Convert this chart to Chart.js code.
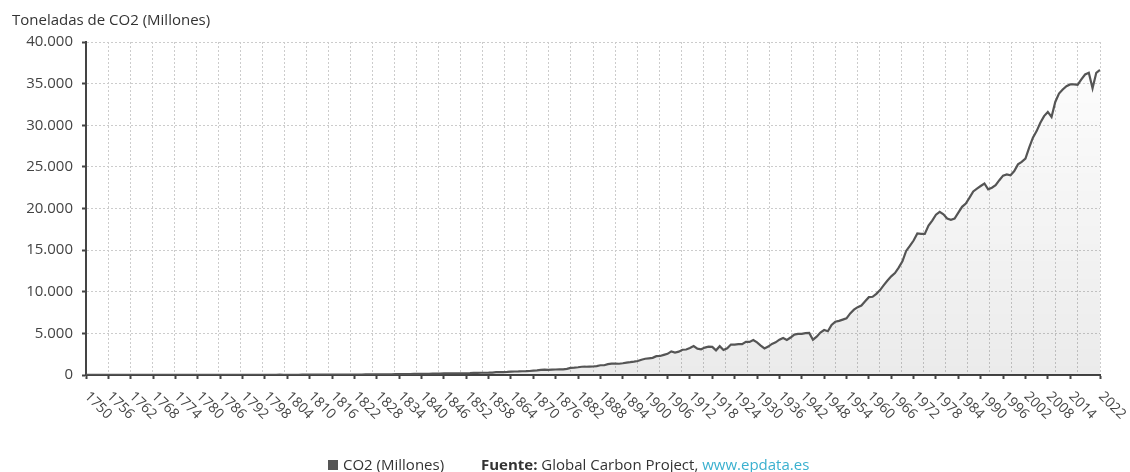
<!DOCTYPE html>
<html lang="es">
<head>
<meta charset="utf-8">
<title>Emisiones de CO2</title>
<script src="https://cdn.jsdelivr.net/npm/chart.js@4.4.1/dist/chart.umd.min.js"></script>
<style>
  html, body { margin: 0; padding: 0; background: #fff; }
  #wrap { position: relative; width: 1130px; height: 472px; overflow: hidden; font-family: "Open Sans", sans-serif; color: #333; }
  #chart { position: absolute; left: 0; top: 0; }
  #ytitle { position: absolute; left: 12px; top: 9px; font-size: 15px; line-height: 20px; color: #333; white-space: nowrap; }
  .foot { position: absolute; top: 454px; font-size: 15px; line-height: 20px; color: #333; white-space: nowrap; }
  #swatch { position: absolute; left: 328px; top: 460px; width: 10px; height: 10px; background: #555; }
  #source b { font-weight: 700; }
  #source a { color: #3ab0cf; text-decoration: none; }
</style>
</head>
<body>
<div id="wrap">
  <canvas id="chart" width="1130" height="472"></canvas>
  <div id="ytitle">Toneladas de CO2 (Millones)</div>
  <div id="swatch"></div>
  <div class="foot" id="legendText" style="left:343px"></div>
  <div class="foot" id="source" style="left:481px"><b>Fuente:</b> Global Carbon Project, <a href="#">www.epdata.es</a></div>
</div>
<script>
// Global CO2 emissions, millions of tonnes per year, 1750-2022
const seriesLabel = 'CO2 (Millones)';
const firstYear = 1750;

const co2_1750_1799 = [
  9.4, 9.4, 9.4, 9.4, 9.4, 9.4, 10.0, 10.0, 10.3, 10.3,
  10.3, 11.0, 11.0, 11.0, 11.0, 11.0, 11.7, 11.7, 11.7, 12.8,
  13.2, 13.2, 13.2, 13.6, 13.6, 14.3, 14.3, 15.0, 15.0, 15.4,
  16.9, 17.2, 17.6, 17.6, 18.3, 18.3, 19.0, 19.8, 20.9, 20.5,
  20.5, 22.0, 23.1, 23.1, 23.8, 24.9, 25.7, 26.0, 26.4, 27.1
];
const co2_1800_1849 = [
  28.2, 28.6, 34.8, 29.7, 30.4, 31.9, 33.0, 33.0, 33.4, 33.4,
  35.2, 35.9, 38.1, 37.0, 39.6, 50.6, 51.0, 53.9, 54.6, 54.6,
  55.0, 55.0, 57.5, 59.3, 62.3, 66.3, 64.1, 67.4, 68.9, 70.3,
  88.0, 88.4, 91.7, 93.5, 98.6, 102.6, 116.9, 121.7, 123.5, 131.2,
  147.3, 149.5, 147.3, 153.9, 160.1, 173.7, 183.6, 190.9, 185.8, 191.6
];
const co2_1850_1899 = [
  197, 198, 207, 217, 249, 254, 270, 272, 276, 297,
  334, 348, 348, 366, 394, 418, 424, 451, 458, 482,
  516, 547, 609, 640, 610, 650, 660, 680, 685, 739,
  861, 875, 928, 993, 994, 1010, 1020, 1076, 1174, 1170,
  1300, 1365, 1374, 1350, 1408, 1494, 1536, 1600, 1683, 1840
];
const co2_1900_1949 = [
  1952, 2001, 2060, 2265, 2280, 2415, 2540, 2840, 2700, 2800,
  3030, 3062, 3232, 3466, 3158, 3090, 3292, 3400, 3380, 2960,
  3460, 3010, 3210, 3660, 3650, 3700, 3700, 3990, 3970, 4200,
  3910, 3540, 3190, 3420, 3740, 3920, 4240, 4450, 4220, 4500,
  4860, 4930, 4940, 5020, 5050, 4240, 4600, 5100, 5400, 5250
];
const co2_1950_1999 = [
  6000, 6400, 6500, 6650, 6800, 7400, 7850, 8150, 8350, 8850,
  9350, 9400, 9750, 10200, 10800, 11350, 11850, 12250, 12900, 13650,
  14900, 15500, 16150, 17000, 16950, 16950, 17950, 18550, 19250, 19600,
  19300, 18800, 18650, 18800, 19500, 20200, 20600, 21300, 22050, 22400,
  22700, 23000, 22300, 22500, 22800, 23400, 23950, 24100, 24000, 24500
];
const co2_2000_2022 = [
  25300, 25600, 26000, 27300, 28500, 29300, 30300, 31100, 31600, 31000,
  32800, 33800, 34300, 34700, 34900, 34900, 34850, 35500, 36100, 36300,
  34450, 36300, 36650
];

const xTickLabels = [
  1750, 1756, 1762, 1768, 1774, 1780, 1786, 1792, 1798, 1804, 1810, 1816,
  1822, 1828, 1834, 1840, 1846, 1852, 1858, 1864, 1870, 1876, 1882, 1888,
  1894, 1900, 1906, 1912, 1918, 1924, 1930, 1936, 1942, 1948, 1954, 1960,
  1966, 1972, 1978, 1984, 1990, 1996, 2002, 2008, 2014, 2022
];
const yTickValues = [0, 5000, 10000, 15000, 20000, 25000, 30000, 35000, 40000];

const co2Values = [].concat(co2_1750_1799, co2_1800_1849, co2_1850_1899,
                            co2_1900_1949, co2_1950_1999, co2_2000_2022);
const years = co2Values.map((_, i) => firstYear + i);
const points = years.map((yr, i) => ({ x: yr, y: co2Values[i] }));

const FONT = '"Open Sans", sans-serif';
const fmtThousands = v => String(v).replace(/\B(?=(\d{3})+(?!\d))/g, '.');

document.getElementById('legendText').textContent = seriesLabel;

// Year labels slanted downwards to the right, starting at each tick
const slantedYears = {
  id: 'slantedYears',
  afterDraw(chart) {
    const sc = chart.scales.x;
    const c = chart.ctx;
    c.save();
    c.font = '14px ' + FONT;
    c.fillStyle = '#444';
    c.textAlign = 'left';
    c.textBaseline = 'alphabetic';
    xTickLabels.forEach(yr => {
      const px = sc.getPixelForValue(yr);
      c.save();
      c.translate(px - 2, sc.top + 22);
      c.rotate(Math.PI / 4);
      c.fillText(String(yr), 0, 0);
      c.restore();
    });
    c.restore();
  }
};

new Chart(document.getElementById('chart'), {
  type: 'line',
  data: {
    datasets: [{
      label: seriesLabel,
      data: points,
      borderColor: '#555555',
      borderWidth: 2.2,
      pointRadius: 0,
      pointHoverRadius: 0,
      tension: 0,
      fill: 'origin',
      backgroundColor(ctx) {
        const area = ctx.chart.chartArea;
        if (!area) return 'rgba(0,0,0,0.04)';
        const g = ctx.chart.ctx.createLinearGradient(0, area.top, 0, area.bottom);
        g.addColorStop(0, 'rgba(0,0,0,0.005)');
        g.addColorStop(1, 'rgba(0,0,0,0.08)');
        return g;
      }
    }]
  },
  options: {
    responsive: false,
    animation: false,
    devicePixelRatio: 1,
    layout: { padding: { top: 42, right: 30, left: 0, bottom: 0 } },
    plugins: {
      legend: { display: false },
      title: { display: false },
      tooltip: { enabled: false }
    },
    scales: {
      x: {
        type: 'linear',
        position: 'bottom',
        min: 1750,
        max: 2022,
        afterBuildTicks(scale) { scale.ticks = xTickLabels.map(v => ({ value: v })); },
        afterFit(scale) { scale.height = 97; },
        ticks: { display: false },
        grid: { display: true, drawOnChartArea: false, drawTicks: true, tickLength: 4, tickWidth: 2, tickColor: '#444' },
        border: { display: true, color: '#444', width: 2 }
      },
      xGrid: {
        type: 'linear',
        position: 'bottom',
        min: 1750,
        max: 2022,
        afterBuildTicks(scale) {
          const n = 46;
          scale.ticks = Array.from({ length: n + 1 }, (_, i) => ({ value: 1750 + i * (2022 - 1750) / n }));
        },
        afterFit(scale) { scale.height = 0; },
        ticks: { display: false },
        grid: { display: true, drawOnChartArea: true, drawTicks: false, color: '#cccccc', lineWidth: 1 },
        border: { display: false, dash: [2, 2] }
      },
      y: {
        type: 'linear',
        min: 0,
        max: 40000,
        afterBuildTicks(scale) { scale.ticks = yTickValues.map(v => ({ value: v })); },
        afterFit(scale) { scale.width = 86; },
        ticks: {
          callback: v => fmtThousands(v),
          color: '#444',
          padding: 9,
          font: { family: FONT, size: 15 }
        },
        grid: { display: true, color: '#cccccc', lineWidth: 1, drawTicks: true, tickLength: 4, tickWidth: 2, tickColor: '#444' },
        border: { display: true, color: '#444', width: 2, dash: [2, 2] }
      }
    }
  },
  plugins: [slantedYears]
});
</script>
</body>
</html>
